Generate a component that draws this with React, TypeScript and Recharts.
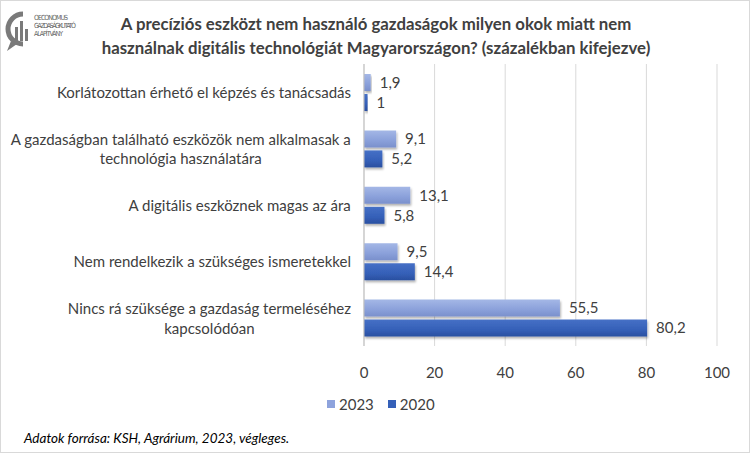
import React from 'react';
import { BarChart, Bar, XAxis, YAxis, CartesianGrid, Legend, LabelList } from 'recharts';

const categories = [
  "Korlátozottan érhető el képzés és tanácsadás",
  "A gazdaságban található eszközök nem alkalmasak a\ntechnológia használatára",
  "A digitális eszköznek magas az ára",
  "Nem rendelkezik a szükséges ismeretekkel",
  "Nincs rá szüksége a gazdaság termeléséhez\nkapcsolódóan",
];
const values2023 = [1.9, 9.1, 13.1, 9.5, 55.5];
const values2020 = [1, 5.2, 5.8, 14.4, 80.2];
const xTicks = [0, 20, 40, 60, 80, 100];
const seriesNames = ["2023", "2020"];
const seriesColors = ["#8ea3dc", "#3560b8"];

const data = categories.map((c, i) => ({ name: c, v2023: values2023[i], v2020: values2020[i] }));

const FONT = "Lato, 'Open Sans', sans-serif";
const TEXT = "#404040";
const LABEL_SIZE = 15;

function measure(text: string, size: number) {
  const ctx = document.createElement('canvas').getContext('2d');
  if (!ctx) return text.length * size * 0.5;
  ctx.font = `${size}px ${FONT}`;
  return ctx.measureText(text).width;
}

const CategoryTick = (props: any) => {
  const { x, y, payload } = props;
  const lines = String(payload.value).split('\n');
  const right = x - 5;
  const w = measure(lines[0], LABEL_SIZE);
  const cx = right - w / 2;
  const lh = 19.5;
  const y0 = y - ((lines.length - 1) * lh) / 2;
  return (
    <g>
      {lines.map((l, i) => (
        <text key={i} x={cx} y={y0 + i * lh} textAnchor="middle" dominantBaseline="central"
          fontFamily={FONT} fontSize={LABEL_SIZE} fill={TEXT}>{l}</text>
      ))}
    </g>
  );
};

const fmt = (v: any) => String(v).replace('.', ',');

const LegendContent = () => (
  <div style={{ display: 'flex', alignItems: 'center', fontFamily: FONT, fontSize: 15, color: TEXT }}>
    {seriesNames.map((n, i) => (
      <div key={n} style={{ display: 'flex', alignItems: 'center', marginRight: 14 }}>
        <div style={{ width: 8, height: 8, background: seriesColors[i], marginRight: 4 }} />
        <span>{n}</span>
      </div>
    ))}
  </div>
);

const Logo = () => (
  <svg width={110} height={60} style={{ position: 'absolute', left: 0, top: 0 }}>
    <path d="M 22 13 A 13 13 0 1 0 22 43" fill="none" stroke="#7a7a7a" strokeWidth={5} />
    <path d="M 10 40 L 6 50 L 16 43 Z" fill="#7a7a7a" />
    <rect x={14} y={26} width={3} height={14} fill="#7a7a7a" />
    <rect x={19} y={20} width={3} height={20} fill="#7a7a7a" />
    <rect x={24} y={28} width={3} height={12} fill="#7a7a7a" />
    <text x={33} y={19} fontSize={7} fill="#666" fontFamily="'Liberation Sans Narrow', 'DejaVu Sans Condensed', sans-serif" textLength={34}>OECONOMUS</text>
    <text x={33} y={27} fontSize={7} fill="#666" fontFamily="'Liberation Sans Narrow', 'DejaVu Sans Condensed', sans-serif" textLength={42}>GAZDASÁGKUTATÓ</text>
    <text x={33} y={35} fontSize={7} fill="#666" fontFamily="'Liberation Sans Narrow', 'DejaVu Sans Condensed', sans-serif" textLength={29}>ALAPÍTVÁNY</text>
  </svg>
);

export default function App() {
  return (
    <div style={{ position: 'absolute', left: 0, top: 0, width: 750, height: 453, background: '#fff', boxSizing: 'border-box', border: '1px solid #d9d9d9', fontFamily: FONT }}>
      <Logo />
      <div style={{ position: 'absolute', left: 0, top: 11, width: 750, textAlign: 'center', fontWeight: 700, fontSize: 16.8, lineHeight: '24px', color: TEXT }}>
        A precíziós eszközt nem használó gazdaságok milyen okok miatt nem<br />
        használnak digitális technológiát Magyarországon? (százalékban kifejezve)
      </div>
      <div style={{ position: 'absolute', left: 23, top: 429, fontStyle: 'italic', fontSize: 13.5, color: '#000' }}>
        Adatok forrása: KSH, Agrárium, 2023, végleges.
      </div>
      <div style={{ position: 'absolute', left: 0, top: 0 }}>
        <BarChart width={750} height={453} data={data} layout="vertical"
          margin={{ top: 63, right: 34, bottom: 60, left: 0 }} barGap={3} barSize={17}>
          <defs>
            <linearGradient id="g2023" x1="0" y1="0" x2="0" y2="1">
              <stop offset="0%" stopColor="#a4b7e6" />
              <stop offset="60%" stopColor="#8aa0da" />
              <stop offset="100%" stopColor="#7a90cc" />
            </linearGradient>
            <linearGradient id="g2020" x1="0" y1="0" x2="0" y2="1">
              <stop offset="0%" stopColor="#4670c6" />
              <stop offset="60%" stopColor="#3560b8" />
              <stop offset="100%" stopColor="#2a4fa0" />
            </linearGradient>
            <filter id="shadow" x="-5%" y="-20%" width="115%" height="160%">
              <feDropShadow dx="1" dy="2" stdDeviation="1.2" floodColor="#000" floodOpacity="0.3" />
            </filter>
          </defs>
          <CartesianGrid horizontal={false} stroke="#d9d9d9" />
          <XAxis type="number" domain={[0, 100]} ticks={xTicks} axisLine={false} tickLine={false}
            tick={{ fill: TEXT, fontSize: 15, fontFamily: FONT }} tickMargin={15} height={30} />
          <YAxis type="category" dataKey="name" width={363} axisLine={{ stroke: '#bfbfbf' }} tickLine={false}
            tick={<CategoryTick />} interval={0} />
          <Legend verticalAlign="bottom" align="left" content={<LegendContent />}
            wrapperStyle={{ left: 326, bottom: 41, width: 200 }} />
          <Bar dataKey="v2023" name={seriesNames[0]} fill="url(#g2023)" filter="url(#shadow)" isAnimationActive={false}>
            <LabelList dataKey="v2023" position="right" offset={9} formatter={fmt}
              style={{ fill: TEXT, fontSize: 15, fontFamily: FONT }} />
          </Bar>
          <Bar dataKey="v2020" name={seriesNames[1]} fill="url(#g2020)" filter="url(#shadow)" isAnimationActive={false}>
            <LabelList dataKey="v2020" position="right" offset={9} formatter={fmt}
              style={{ fill: TEXT, fontSize: 15, fontFamily: FONT }} />
          </Bar>
        </BarChart>
      </div>
    </div>
  );
}
